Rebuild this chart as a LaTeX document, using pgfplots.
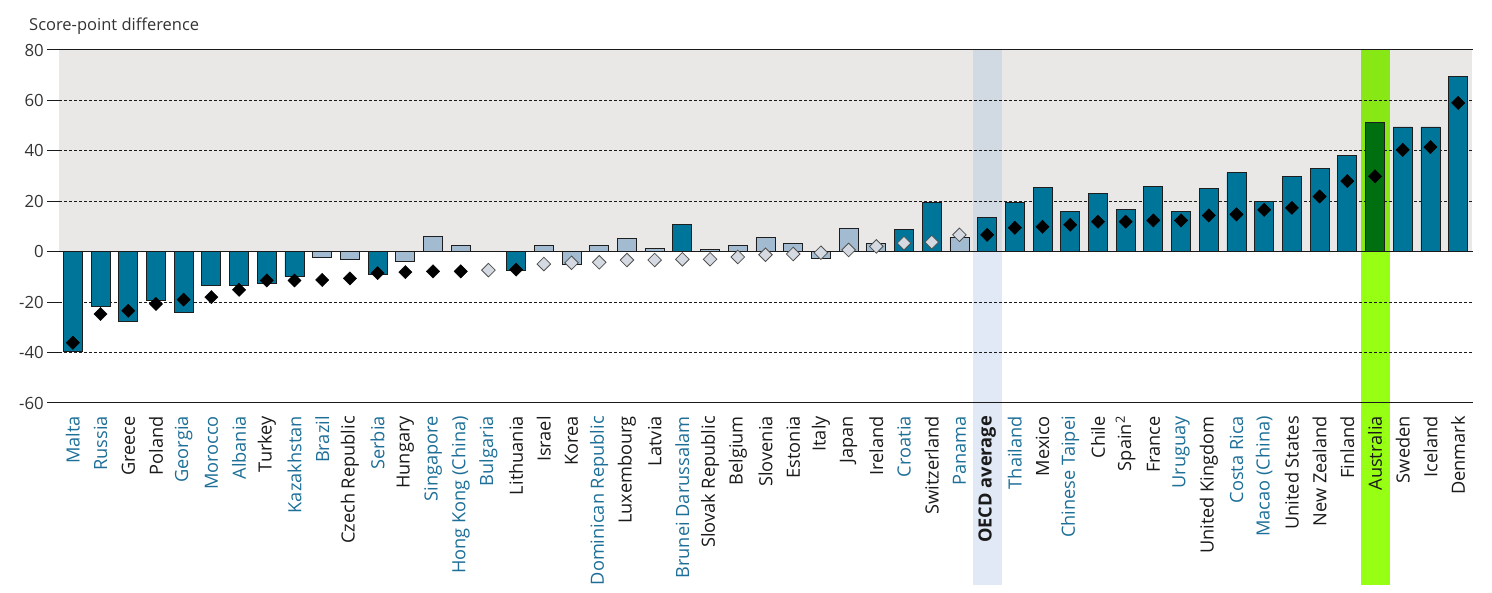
\documentclass[border=0pt]{standalone}
\usepackage{pgfplots}
\pgfplotsset{compat=1.18}
\usepackage{fontspec}
\setmainfont{Open Sans}
\definecolor{barteal}{HTML}{00759A}
\definecolor{barlight}{HTML}{A2BBD0}
\definecolor{bargreen}{HTML}{006F0F}
\definecolor{barline}{HTML}{1E1E1E}
\definecolor{diamlight}{HTML}{D5DAE2}
\definecolor{diamedge}{HTML}{505050}
\definecolor{bggray}{HTML}{E9E8E6}
\definecolor{oecdtop}{HTML}{D1D9E3}
\definecolor{oecdbot}{HTML}{E1E8F6}
\definecolor{austop}{HTML}{88E816}
\definecolor{ausbot}{HTML}{96FF14}
\definecolor{lblue}{HTML}{1D6F98}
\definecolor{lblack}{HTML}{1A1A1A}
\definecolor{tickgray}{HTML}{333333}
\newcommand{\B}[1]{\textcolor{lblue}{#1}}
\newcommand{\K}[1]{\textcolor{lblack}{#1}}
\begin{document}
\begin{tikzpicture}
\begin{axis}[
  at={(0,0)}, anchor=south west, scale only axis,
  width=1413pt, height=353pt,
  xmin=-0.5, xmax=50.5, ymin=-60, ymax=80,
  clip=false, set layers,
  axis line style={draw=none},
  tick style={draw=none},
  major tick length=0pt,
  ytick={-60,-40,-20,0,20,40,60,80},
  /pgf/number format/assume math mode=true,
  yticklabel style={anchor=east, inner sep=0pt, xshift=-15pt, text=tickgray, font=\fontsize{16.8}{20}\selectfont},
  xtick={0,...,50},
  xticklabel style={rotate=90, anchor=east, inner sep=0pt, font=\fontsize{18.2}{22}\selectfont},
  xticklabel shift=13pt,
  xticklabels={\B{Malta},\B{Russia},\K{Greece},\K{Poland},\B{Georgia},\B{Morocco},\B{Albania},\K{Turkey},\B{Kazakhstan},\B{Brazil},\K{Czech Republic},\B{Serbia},\K{Hungary},\B{Singapore},\B{Hong Kong (China)},\B{Bulgaria},\K{Lithuania},\K{Israel},\K{Korea},\B{Dominican Republic},\K{Luxembourg},\K{Latvia},\B{Brunei Darussalam},\K{Slovak Republic},\K{Belgium},\K{Slovenia},\K{Estonia},\K{Italy},\K{Japan},\K{Ireland},\B{Croatia},\K{Switzerland},\B{Panama},\K{\textbf{OECD average}},\B{Thailand},\K{Mexico},\B{Chinese Taipei},\K{Chile},\K{Spain\textsuperscript{2}},\K{France},\B{Uruguay},\K{United Kingdom},\B{Costa Rica},\B{Macao (China)},\K{United States},\K{New Zealand},\K{Finland},\K{Australia},\K{Sweden},\K{Iceland},\K{Denmark}},
]
\begin{pgfonlayer}{axis background}
\fill[bggray] (axis cs:-0.5,0) rectangle (axis cs:50.5,80);
\fill[oecdtop] (axis cs:32.48,0) rectangle (axis cs:33.54,80);
\fill[oecdbot] (axis cs:32.48,-132.2) rectangle (axis cs:33.54,0);
\fill[austop] (axis cs:46.49,0) rectangle (axis cs:47.53,80);
\fill[ausbot] (axis cs:46.49,-132.2) rectangle (axis cs:47.53,0);
\end{pgfonlayer}
\begin{pgfonlayer}{axis grid}
\draw[lblack, line width=0.9pt, dash pattern=on 3pt off 2pt] (axis cs:-0.5,60) -- (axis cs:50.5,60);
\draw[lblack, line width=0.9pt, dash pattern=on 3pt off 2pt] (axis cs:-0.5,40) -- (axis cs:50.5,40);
\draw[lblack, line width=0.9pt, dash pattern=on 3pt off 2pt] (axis cs:-0.5,20) -- (axis cs:50.5,20);
\draw[lblack, line width=0.9pt, dash pattern=on 3pt off 2pt] (axis cs:-0.5,-20) -- (axis cs:50.5,-20);
\draw[lblack, line width=0.9pt, dash pattern=on 3pt off 2pt] (axis cs:-0.5,-40) -- (axis cs:50.5,-40);
\draw[lblack, line width=0.9pt] (axis cs:-0.933,60) -- (axis cs:-0.5,60);
\draw[lblack, line width=0.9pt] (axis cs:-0.933,40) -- (axis cs:-0.5,40);
\draw[lblack, line width=0.9pt] (axis cs:-0.933,20) -- (axis cs:-0.5,20);
\draw[lblack, line width=0.9pt] (axis cs:-0.933,-20) -- (axis cs:-0.5,-20);
\draw[lblack, line width=0.9pt] (axis cs:-0.933,-40) -- (axis cs:-0.5,-40);
\draw[lblack, line width=1pt] (axis cs:-0.933,80) -- (axis cs:50.55,80);
\draw[lblack, line width=1pt] (axis cs:-0.933,-60) -- (axis cs:50.55,-60);
\end{pgfonlayer}
% significant bars
\addplot[ybar, bar width=19pt, bar shift=0pt, fill=barteal, draw=barline, line width=0.8pt] coordinates {
(0,-39.6) (1,-21.8) (2,-27.7) (3,-19.2) (4,-24.2) (5,-13.2) (6,-13.5) (7,-12.4) (8,-9.9) (11,-9.1) (16,-7.5)
(22,10.7) (30,8.7) (31,19.6) (33,13.5) (34,19.6) (35,25.4) (36,15.9) (37,23.0) (38,16.6) (39,25.8) (40,15.9)
(41,25.0) (42,31.3) (43,19.9) (44,29.7) (45,32.9) (46,38.0) (48,49.5) (49,49.5) (50,69.4)};
% not significant bars
\addplot[ybar, bar width=19pt, bar shift=0pt, fill=barlight, draw=barline, line width=0.8pt] coordinates {
(9,-2.4) (10,-3.2) (12,-4.0) (13,5.9) (14,2.4) (17,2.4) (18,-5.2) (19,2.4) (20,5.3) (21,1.2) (23,0.8)
(24,2.4) (25,5.5) (26,3.2) (27,-2.8) (28,9.1) (29,3.2) (32,5.7)};
% Australia
\addplot[ybar, bar width=19pt, bar shift=0pt, fill=bargreen, draw=barline, line width=0.8pt] coordinates {(47,51.1)};
\draw[lblack, line width=1pt] (axis cs:-0.933,0) -- (axis cs:50.55,0);
% significant diamonds
\addplot[only marks, mark=square*, mark size=4.7pt, mark options={rotate=45, fill=black, draw=black}] coordinates {
(0,-36.1) (1,-24.7) (2,-23.4) (3,-20.7) (4,-19.0) (5,-18.0) (6,-15.1) (7,-11.4) (8,-11.4) (9,-11.2) (10,-10.6)
(11,-8.5) (12,-8.1) (13,-7.8) (14,-7.8) (16,-7.1) (33,6.7) (34,9.5) (35,9.9) (36,10.7) (37,11.9) (38,11.9)
(39,12.4) (40,12.4) (41,14.4) (42,14.8) (43,16.6) (44,17.4) (45,21.9) (46,28.0) (47,29.9) (48,40.4) (49,41.5) (50,59.0)};
% not significant diamonds
\addplot[only marks, mark=square*, mark size=4.8pt, mark options={rotate=45, fill=diamlight, draw=diamedge, line width=0.8pt}] coordinates {
(15,-7.3) (17,-4.9) (18,-4.4) (19,-4.2) (20,-3.3) (21,-3.3) (22,-3.0) (23,-3.0) (24,-2.1) (25,-1.2) (26,-0.9)
(27,-0.4) (28,0.7) (29,2.1) (30,3.4) (31,3.8) (32,6.7)};
\node[anchor=base west, inner sep=0pt, text=tickgray, font=\fontsize{16.5}{20}\selectfont] at ([xshift=-30pt, yshift=19pt]rel axis cs:0,1) {Score-point difference};
\end{axis}
\pgfresetboundingbox
\path[use as bounding box] (-59pt,-190pt) rectangle (1433pt,403pt);
\end{tikzpicture}
\end{document}
